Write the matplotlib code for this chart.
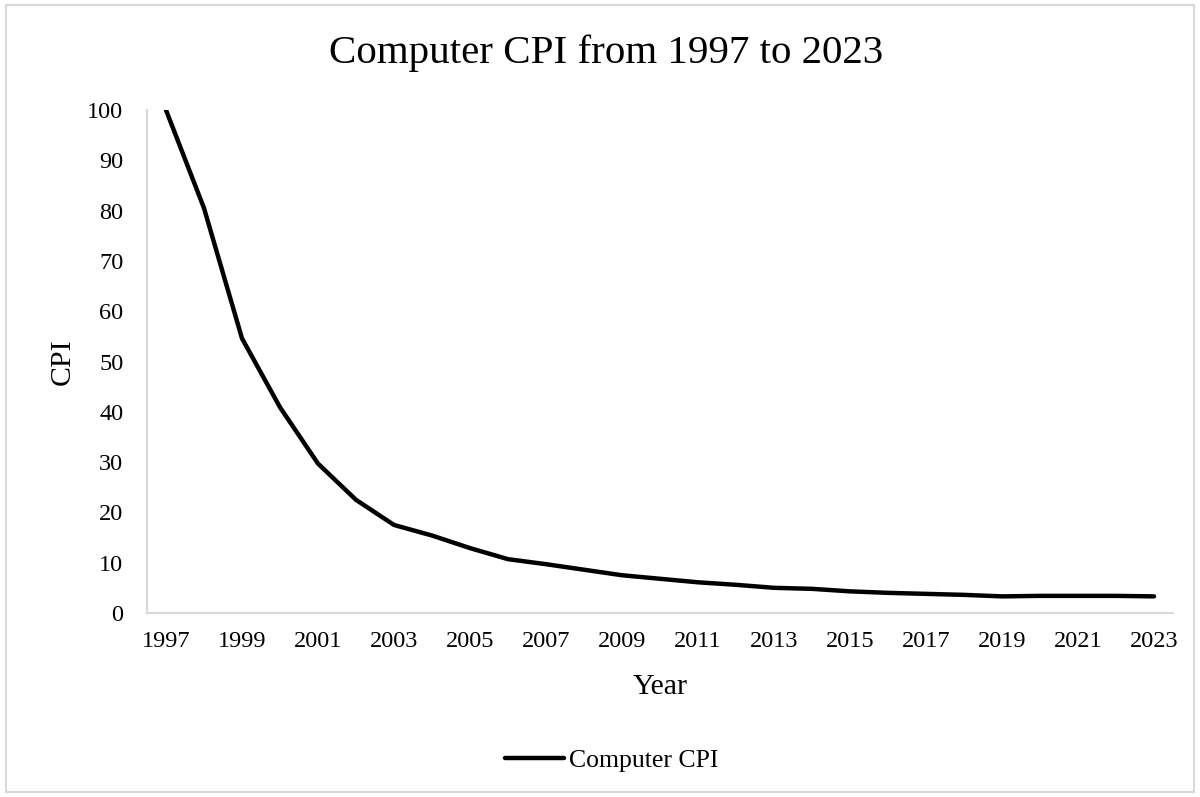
import matplotlib.pyplot as plt
from matplotlib.patches import Rectangle

# Computer CPI, yearly values (1997 = 100)
years = list(range(1997, 2024))
cpi = [100, 80.5, 54.6, 40.9, 29.7, 22.5, 17.5, 15.4, 12.9, 10.7,
       9.7, 8.6, 7.5, 6.8, 6.1, 5.6, 5.0, 4.8, 4.3, 4.0,
       3.8, 3.6, 3.3, 3.4, 3.4, 3.4, 3.3]
yticks = list(range(0, 101, 10))
xtick_years = years[::2]

plt.rcParams['font.family'] = ['Liberation Serif', 'DejaVu Serif']

fig = plt.figure(figsize=(12, 7.97), dpi=100)
ax = fig.add_axes([0.1225, 0.2309, 0.855, 0.631])

ax.plot(years, cpi, color='black', linewidth=3.2, solid_capstyle='round',
        label='Computer CPI')

ax.set_xlim(1996.5, 2023.5)
ax.set_ylim(0, 100)
ax.set_yticks(yticks)
ax.set_xticks(xtick_years)
ax.tick_params(axis='both', length=0, labelsize=17.5, colors='black')
ax.tick_params(axis='x', pad=13)
ax.tick_params(axis='y', pad=17)

for side in ['top', 'right']:
    ax.spines[side].set_visible(False)
for side in ['left', 'bottom']:
    ax.spines[side].set_color('#d9d9d9')
    ax.spines[side].set_linewidth(1.5)

fig.text(0.505, 0.933, 'Computer CPI from 1997 to 2023', fontsize=29.5,
         ha='center', va='center')
ax.set_xlabel('Year', fontsize=21.5, labelpad=16)
ax.set_ylabel('CPI', fontsize=21.5, labelpad=8)

fig.legend(loc='center', bbox_to_anchor=(0.51, 0.046), frameon=False,
           fontsize=18.5, handlelength=2.3, handletextpad=0.2)

# light border around the whole chart
fig.patches.append(Rectangle((0.005, 0.006), 0.99, 0.988, transform=fig.transFigure,
                             fill=False, edgecolor='#d9d9d9', linewidth=1.5))

fig.savefig('out.png', dpi=100)
